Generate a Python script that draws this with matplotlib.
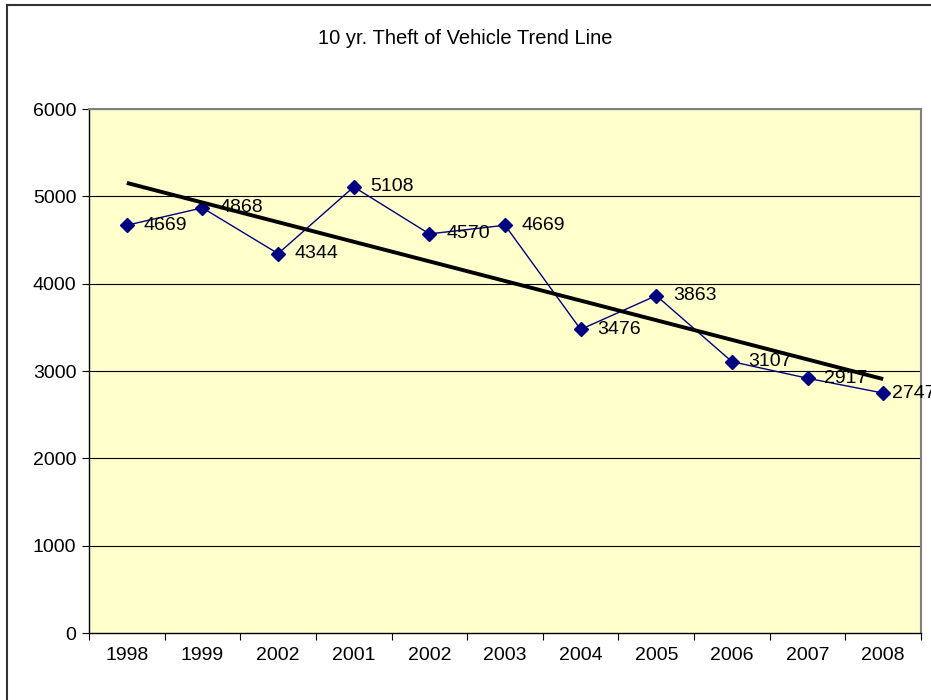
import numpy as np
import matplotlib
matplotlib.use("Agg")
import matplotlib.pyplot as plt
from matplotlib.lines import Line2D

categories = ["1998", "1999", "2002", "2001", "2002", "2003", "2004", "2005", "2006", "2007", "2008"]
values = [4669, 4868, 4344, 5108, 4570, 4669, 3476, 3863, 3107, 2917, 2747]
yticks = [0, 1000, 2000, 3000, 4000, 5000, 6000]

plt.rcParams['font.family'] = ['Liberation Sans', 'DejaVu Sans']

fig = plt.figure(figsize=(9.31, 7.0), dpi=100)
fig.patch.set_facecolor('white')
# outer chart border: only top and left visible (cropped screenshot)
fig.lines.append(Line2D([7/931, 1.0], [1 - 4.5/700, 1 - 4.5/700], transform=fig.transFigure,
                        color='#333333', linewidth=1.5))
fig.lines.append(Line2D([7/931, 7/931], [0.0, 1 - 4.5/700], transform=fig.transFigure,
                        color='#333333', linewidth=1.5))

ax = fig.add_axes([89/931, 1 - 633/700, (921-89)/931, (633-109)/700])
ax.set_facecolor('#FFFFCC')
n = len(categories)
x = np.arange(n)
ax.set_xlim(-0.5, n - 0.5)
ax.set_ylim(0, 6000)

for yt in yticks[1:]:
    ax.axhline(yt, color='black', linewidth=0.8, zorder=1)

ax.plot(x, values, color='#000080', linewidth=1.0, marker='D', markersize=7,
        markerfacecolor='#000080', markeredgecolor='#000080', zorder=3)

coef = np.polyfit(x, values, 1)
xt = np.array([0, n - 1])
ax.plot(xt, np.polyval(coef, xt), color='black', linewidth=2.8, zorder=4, solid_capstyle='butt')

for i, (xi, v) in enumerate(zip(x, values)):
    off = 6.5 if i == n - 1 else 12
    ax.annotate(str(v), (xi, v), xytext=(off, 0), textcoords='offset points',
                va='center', ha='left', fontsize=14, color='black', zorder=5,
                annotation_clip=False)

ax.set_yticks(yticks)
ax.set_yticklabels([str(t) for t in yticks], fontsize=14)
ax.set_xticks(np.arange(-0.5, n, 1.0))
ax.set_xticklabels([])
ax.set_xticks(x, minor=True)
ax.set_xticklabels(categories, minor=True, fontsize=14)
ax.tick_params(axis='x', which='major', length=5, direction='out', color='black')
ax.tick_params(axis='x', which='minor', length=0, pad=10)
ax.tick_params(axis='y', length=5, direction='out', pad=4)

for side in ['left', 'bottom']:
    ax.spines[side].set_color('black')
    ax.spines[side].set_linewidth(1.0)
for side in ['top', 'right']:
    ax.spines[side].set_color('#808080')
    ax.spines[side].set_linewidth(1.5)

fig.text(0.5, 1 - 38/700, "10 yr. Theft of Vehicle Trend Line", ha='center', va='center', fontsize=14.5)

fig.savefig("out.png", dpi=100, facecolor='white')
